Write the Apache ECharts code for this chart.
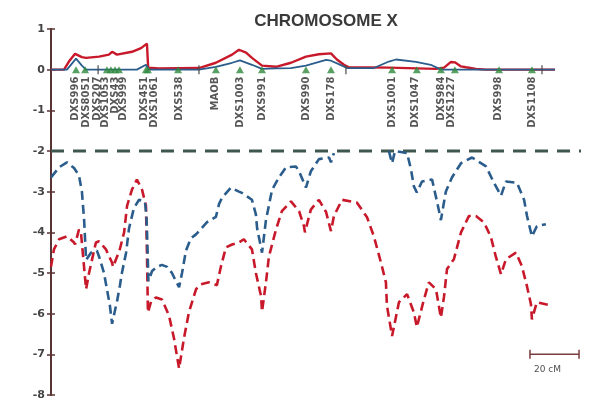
<!DOCTYPE html>
<html>
<head>
<meta charset="utf-8">
<script src="https://cdn.jsdelivr.net/npm/echarts@6/dist/echarts.min.js"></script>
<style>
  html, body { margin: 0; padding: 0; background: #ffffff; }
  #chart { width: 590px; height: 408px; }
</style>
</head>
<body>
<div id="chart"></div>
<script>
// Marker map of chromosome X (positions in cM)
const markerNames = ['DXS996', 'DXS8051', 'DXS207', 'DXS1053', 'DXS43', 'DXS999', 'DXS451', 'DXS1061',
  'DXS538', 'MAOB', 'DXS1003', 'DXS991', 'DXS990', 'DXS178', 'DXS1001', 'DXS1047', 'DXS984', 'DXS1227',
  'DXS998', 'DXS1108'];
const markerPos = [10.2, 13.9, 22.8, 24.4, 26.1, 27.7, 38.7, 39.5, 51.8, 67.2, 77.0, 86.0, 103.9, 114.1,
  139.0, 149.1, 158.9, 164.6, 182.6, 196.0];
// unlabelled map positions (small ticks on the baseline)
const tickPos = [19.2, 60.3, 120.2, 200.1];

// Positive LOD scores (solid curves)
const redLod = [[0, 0], [5.3, 0], [7.3, 0.2], [9.8, 0.39], [12.6, 0.31], [14.3, 0.29], [19.6, 0.32], [23.6, 0.37],
  [24.9, 0.44], [26.9, 0.37], [33.0, 0.44], [36.7, 0.53], [39.1, 0.64], [39.6, 0.05], [44.0, 0.03], [60.3, 0.04],
  [67.2, 0.17], [73.8, 0.37], [76.6, 0.49], [79.5, 0.42], [81.9, 0.29], [86.0, 0.1], [91.7, 0.07], [97.8, 0.17],
  [103.9, 0.32], [109.2, 0.38], [114.1, 0.4], [116.5, 0.25], [119.4, 0.12], [121.4, 0.06], [137.7, 0.05],
  [156.9, 0.02], [160.2, 0.05], [163.0, 0.19], [164.6, 0.18], [167.1, 0.08], [169.1, 0.06], [173.2, 0.02],
  [177.3, 0], [205.4, 0]];
const blueLod = [[0, 0], [6.5, 0], [10.2, 0.27], [12.6, 0.1], [14.3, 0], [35.0, 0], [38.7, 0.12], [39.3, 0.1],
  [39.9, 0], [60.3, 0], [67.2, 0.07], [73.8, 0.17], [77.0, 0.23], [81.9, 0.12], [86.0, 0.02], [91.7, 0.03],
  [97.8, 0.04], [103.9, 0.1], [112.1, 0.24], [114.1, 0.22], [117.5, 0.13], [120.6, 0.04], [131.6, 0.04],
  [137.7, 0.2], [140.6, 0.25], [148.7, 0.19], [154.8, 0.12], [158.9, 0.0], [205.4, 0]];

// Exclusion curves (dashed)
const redExcl = [[0, -4.85], [1.2, -4.42], [3.3, -4.17], [6.5, -4.1], [9.4, -4.25], [9.8, -4.3], [11.4, -3.93],
  [12.2, -4.0], [14.3, -5.4], [15.5, -5.0], [18.3, -4.25], [19.6, -4.22], [22.4, -4.42], [24.9, -4.75],
  [25.3, -4.85], [26.9, -4.6], [27.7, -4.5], [29.8, -4.0], [31.0, -3.35], [33.0, -2.95], [35.0, -2.7],
  [37.1, -2.95], [38.7, -3.35], [39.1, -4.5], [39.5, -5.97], [40.8, -5.7], [42.8, -5.6], [45.2, -5.65],
  [48.1, -6.05], [50.1, -6.6], [52.2, -7.35], [54.2, -6.6], [56.2, -5.97], [59.1, -5.4], [61.1, -5.28],
  [64.4, -5.23], [67.6, -5.3], [69.3, -4.83], [71.3, -4.37], [73.8, -4.3], [76.6, -4.25], [78.6, -4.17],
  [81.9, -4.42], [83.5, -5.0], [85.6, -5.57], [86.0, -5.95], [87.6, -5.23], [88.8, -4.6], [91.7, -3.93],
  [94.1, -3.48], [97.8, -3.24], [101.1, -3.48], [103.1, -3.85], [103.5, -4.0], [105.9, -3.44], [109.2, -3.2],
  [112.1, -3.5], [114.1, -3.97], [115.3, -3.6], [118.6, -3.2], [124.7, -3.27], [128.8, -3.63], [131.6, -4.1],
  [134.5, -4.75], [136.5, -5.23], [136.9, -5.8], [139.0, -6.55], [141.8, -5.72], [145.1, -5.52], [147.9, -5.97],
  [149.1, -6.33], [152.0, -5.65], [154.0, -5.23], [156.9, -5.4], [158.9, -6.1], [160.2, -5.57], [161.4, -4.9],
  [164.2, -4.66], [167.1, -4.0], [170.3, -3.6], [173.2, -3.6], [176.5, -3.76], [179.3, -4.12], [181.3, -4.6],
  [183.4, -5.03], [185.4, -4.66], [189.5, -4.5], [191.9, -4.83], [194.0, -5.33], [195.6, -5.77], [196.0, -6.14],
  [198.0, -5.72], [203.8, -5.8]];
const blueExcl = [[0, -2.65], [2.0, -2.5], [3.3, -2.4], [6.5, -2.28], [9.4, -2.42], [11.4, -2.6], [12.6, -3.0],
  [13.5, -3.7], [14.3, -4.68], [16.3, -4.5], [18.7, -4.45], [19.6, -4.6], [21.6, -5.0], [22.8, -5.4],
  [24.0, -5.8], [24.9, -6.25], [26.5, -5.8], [26.9, -5.7], [28.1, -5.3], [28.9, -5.0], [30.6, -4.5],
  [31.8, -3.9], [33.8, -3.4], [35.9, -3.2], [38.3, -3.25], [38.9, -3.6], [39.3, -4.3], [39.7, -5.2],
  [41.2, -4.95], [43.2, -4.85], [45.2, -4.8], [47.3, -4.85], [49.3, -5.0], [50.9, -5.2], [52.2, -5.35],
  [53.4, -5.0], [55.0, -4.45], [57.0, -4.15], [59.1, -4.05], [63.6, -3.75], [67.2, -3.62], [68.5, -3.3],
  [69.7, -3.15], [73.3, -2.9], [76.6, -3.0], [77.8, -3.03], [81.9, -3.2], [83.5, -3.56], [84.0, -3.9],
  [86.0, -4.5], [87.6, -3.7], [90.1, -2.95], [92.9, -2.65], [95.8, -2.4], [99.8, -2.38], [101.1, -2.5],
  [103.9, -2.9], [105.9, -2.5], [109.2, -2.2], [113.3, -2.16], [114.1, -2.28], [115.3, -2.05],
  [null, null],
  [137.7, -2.0], [139.0, -2.3], [140.2, -2.0], [145.1, -2.05], [146.7, -2.45], [147.9, -2.87], [149.1, -3.02],
  [151.2, -2.75], [155.3, -2.7], [157.7, -3.35], [158.9, -3.7], [160.9, -3.0], [163.4, -2.65], [167.1, -2.3],
  [171.6, -2.16], [177.3, -2.38], [180.5, -2.78], [183.4, -3.1], [185.4, -2.75], [189.9, -2.78], [192.8, -3.2],
  [194.0, -3.6], [196.0, -4.1], [198.0, -3.85], [201.7, -3.8]];

const threshold = -2;
const scaleBarCM = 20;
const yTicks = [1, 0, -1, -2, -3, -4, -5, -6, -7, -8];

// layout
const X_MAX = 216;
const GRID = { left: 51, top: 29, width: 530, height: 366 };
const pxPerCM = GRID.width / X_MAX;
// horizontal nudge (px) of crowded marker names
const labelShiftPx = [-1, 1, -10, -5, 0, 4, -2, 6, 1, 0, 0, 0, 0, 0, 0, -1, 1, -3, -1, 0];
const scaleBarStart = 195.2;
const scaleBarY = -7;

const RED = '#c8192b';
const BLUE = '#2b5d8c';
const GREEN = '#2f8a3c';

const chart = echarts.init(document.getElementById('chart'), null, { renderer: 'canvas' });

const yAxisBase = {
  type: 'value', min: yTicks[yTicks.length - 1], max: yTicks[0], interval: 1,
  splitLine: { show: false }
};

chart.setOption({
  animation: false,
  backgroundColor: '#ffffff',
  title: {
    text: 'CHROMOSOME X', left: 321, top: 8, textAlign: 'center',
    textStyle: { fontFamily: 'Liberation Sans', fontWeight: 'bold', fontSize: 17, color: '#3a3a3a' }
  },
  grid: GRID,
  xAxis: { type: 'value', min: 0, max: X_MAX, show: false },
  yAxis: [
    Object.assign({}, yAxisBase, {
      axisLine: { show: true, lineStyle: { color: '#5a3434', width: 2 } },
      axisTick: { show: true, inside: false, length: 4, lineStyle: { color: '#5a3434', width: 1.5 } },
      axisLabel: { show: true, margin: 6, fontFamily: 'DejaVu Sans', fontWeight: 'bold', fontSize: 11, color: '#444' }
    }),
    Object.assign({}, yAxisBase, {
      position: 'left',
      axisLine: { show: false },
      axisTick: { show: true, inside: true, length: 4, lineStyle: { color: '#5a3434', width: 1.5 } },
      axisLabel: { show: false }
    })
  ],
  series: [
    {
      name: 'threshold', type: 'line', data: [[0, threshold], [X_MAX, threshold]],
      symbol: 'none', lineStyle: { color: '#3e5850', width: 3, type: [13, 9] }, z: 1
    },
    {
      name: 'redExcl', type: 'line', data: redExcl, symbol: 'none', connectNulls: false,
      lineStyle: { color: RED, width: 2.6, type: [9, 5] }, z: 2
    },
    {
      name: 'blueExcl', type: 'line', data: blueExcl, symbol: 'none', connectNulls: false,
      lineStyle: { color: BLUE, width: 2.6, type: [9, 5] }, z: 3
    },
    {
      name: 'redLod', type: 'line', data: redLod, symbol: 'none',
      lineStyle: { color: RED, width: 2.4 }, z: 3
    },
    {
      name: 'blueLod', type: 'line', data: blueLod, symbol: 'none',
      lineStyle: { color: BLUE, width: 1.8 }, z: 4
    },
    {
      name: 'mapTicks', type: 'scatter', data: tickPos.map(p => [p, 0]),
      symbol: 'rect', symbolSize: [1.5, 9], itemStyle: { color: '#4a4a4a' }, z: 5
    },
    {
      name: 'markers', type: 'scatter', data: markerPos.map(p => [p, 0]),
      symbol: 'triangle', symbolSize: [8, 7], itemStyle: { color: GREEN }, z: 6
    },
    {
      name: 'markerNames', type: 'scatter', symbolSize: 0, z: 7,
      data: markerNames.map((n, i) => ({ name: n, value: [markerPos[i] + labelShiftPx[i] / pxPerCM, 0] })),
      label: {
        show: true, formatter: '{b}', rotate: 90, position: 'bottom', distance: 7,
        align: 'right', verticalAlign: 'middle',
        fontFamily: 'DejaVu Sans', fontWeight: 'bold', fontSize: 10, color: '#2c2c2c'
      }
    },
    {
      name: 'scaleBar', type: 'line', data: [[scaleBarStart, scaleBarY], [scaleBarStart + scaleBarCM, scaleBarY]],
      symbol: 'rect', symbolSize: [1.5, 9], showSymbol: true,
      itemStyle: { color: '#7a3c3c' }, lineStyle: { color: '#7a3c3c', width: 1.5 }, z: 5
    },
    {
      name: 'scaleText', type: 'scatter', symbolSize: 0,
      data: [{ name: scaleBarCM + ' cM', value: [scaleBarStart + scaleBarCM / 2, scaleBarY] }],
      label: {
        show: true, formatter: '{b}', position: 'bottom', distance: 11, offset: [-7, 0],
        fontFamily: 'DejaVu Sans', fontSize: 9, color: '#222'
      }
    }
  ]
});
</script>
</body>
</html>
